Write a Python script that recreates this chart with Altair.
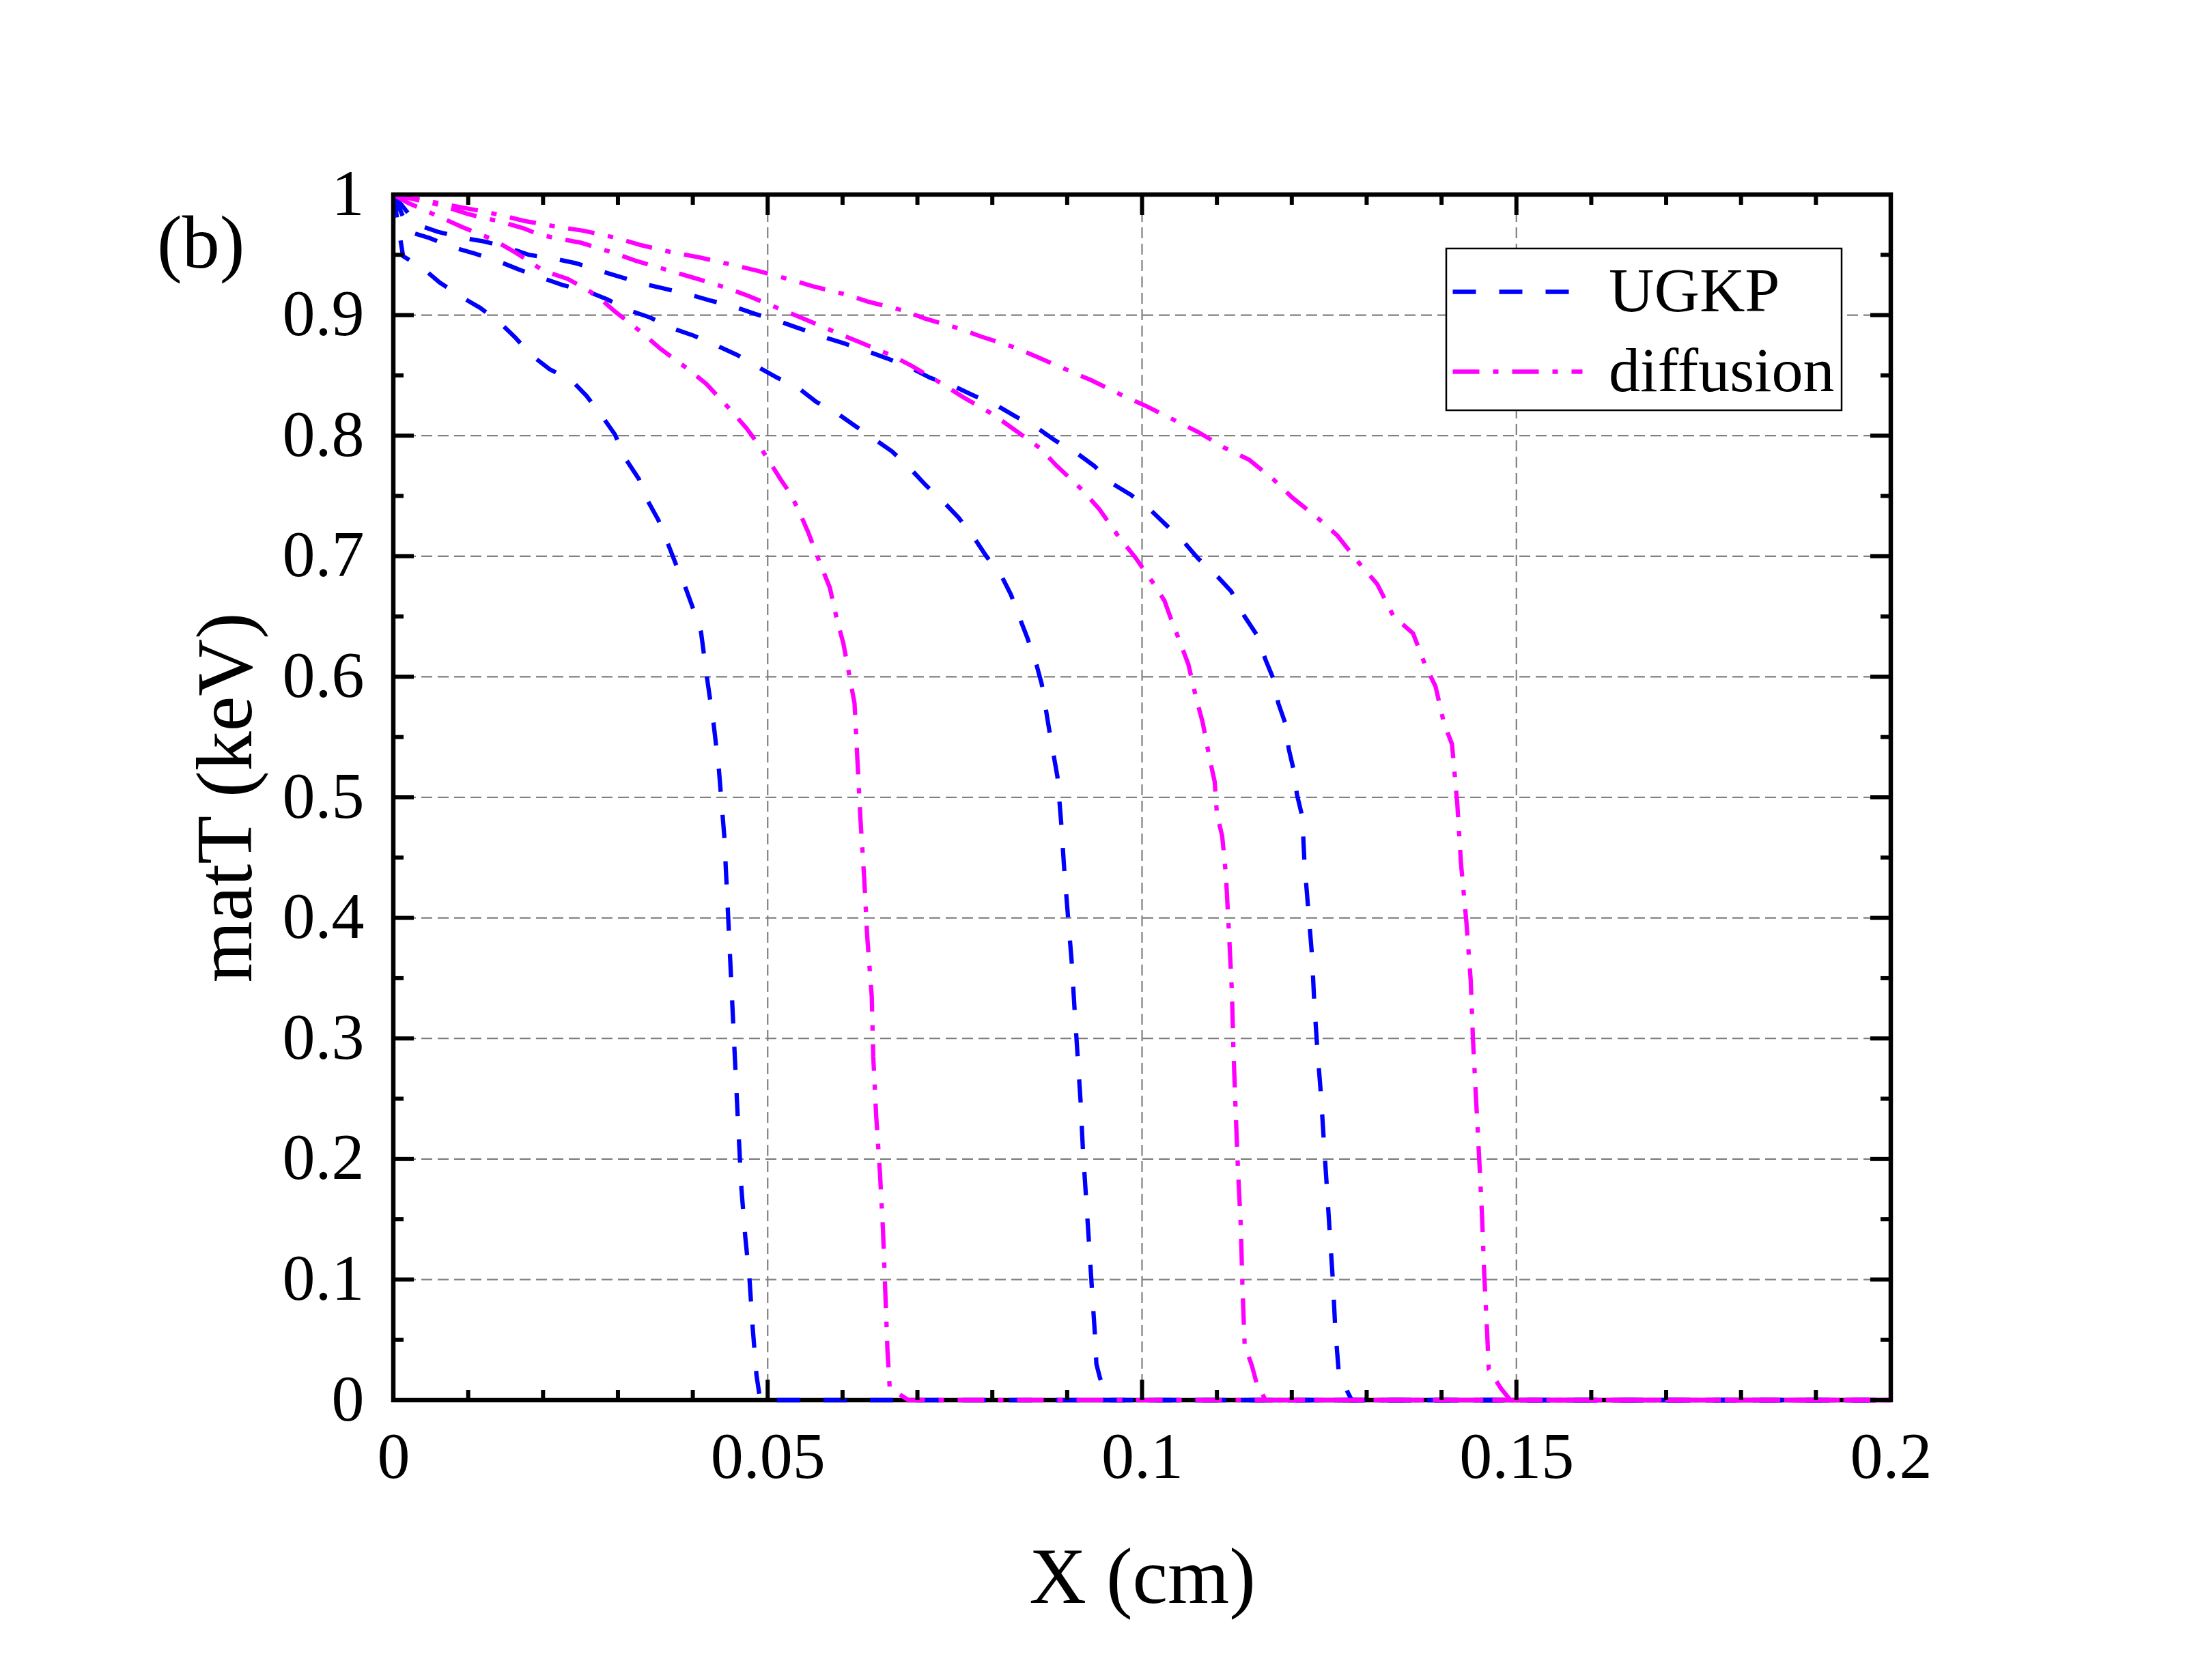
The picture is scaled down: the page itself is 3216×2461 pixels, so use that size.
import altair as alt
import pandas as pd

FONT = "Liberation Serif"

x_title = "X (cm)"
y_title = "matT (keV)"
panel_label = "(b)"
methods = ["UGKP", "diffusion"]
colors = ["#0000FF", "#FF00FF"]
dashes = [[34, 34], [39, 20, 8, 20]]

# UGKP curves
ugkp1_x = [0, 0.0013, 0.0041, 0.0062, 0.0094, 0.0116, 0.0142, 0.0162, 0.0184, 0.0209, 0.0238, 0.0258,
           0.0279, 0.0296, 0.031, 0.0328, 0.0338, 0.0354, 0.0367, 0.0377, 0.0389, 0.0399, 0.0411, 0.0419,
           0.0428, 0.0435, 0.0442, 0.0448, 0.0454, 0.046, 0.0465, 0.047, 0.0476, 0.048, 0.0485, 0.049, 0.2]
ugkp1_y = [1.0, 0.949, 0.938, 0.927, 0.914, 0.906, 0.894, 0.882, 0.867, 0.855, 0.846, 0.833,
           0.816, 0.801, 0.781, 0.764, 0.748, 0.730, 0.710, 0.694, 0.676, 0.659, 0.637, 0.599,
           0.560, 0.522, 0.468, 0.391, 0.312, 0.235, 0.175, 0.136, 0.098, 0.06, 0.021, 0.0, 0.0]

ugkp2_x = [0, 0.0022, 0.0048, 0.0081, 0.0109, 0.0139, 0.0167, 0.0198, 0.0226, 0.0258, 0.0286, 0.0315,
           0.0343, 0.0373, 0.0401, 0.0431, 0.0459, 0.0487, 0.0513, 0.0542, 0.0565, 0.0594, 0.0617, 0.0645,
           0.0666, 0.069, 0.0711, 0.0735, 0.0755, 0.0776, 0.0792, 0.0812, 0.0825, 0.0837, 0.0847, 0.0859,
           0.0866, 0.0876, 0.0887, 0.0892, 0.0896, 0.0901, 0.0906, 0.091, 0.0914, 0.0918, 0.0921, 0.0925,
           0.0929, 0.0933, 0.0937, 0.0939, 0.0944, 0.0955, 0.2]
ugkp2_y = [1.0, 0.969, 0.964, 0.956, 0.951, 0.945, 0.938, 0.931, 0.925, 0.920, 0.913, 0.904,
           0.898, 0.889, 0.883, 0.875, 0.867, 0.857, 0.848, 0.839, 0.828, 0.818, 0.808, 0.796,
           0.787, 0.773, 0.759, 0.745, 0.732, 0.715, 0.700, 0.684, 0.668, 0.648, 0.632, 0.610,
           0.594, 0.556, 0.517, 0.479, 0.441, 0.402, 0.364, 0.323, 0.285, 0.247, 0.208, 0.170,
           0.132, 0.093, 0.055, 0.030, 0.018, 0.0, 0.0]

ugkp3_x = [0, 0.0032, 0.006, 0.0094, 0.0122, 0.0153, 0.0181, 0.0214, 0.0244, 0.0275, 0.0301, 0.0334,
           0.0362, 0.0396, 0.0424, 0.0455, 0.0483, 0.0515, 0.0542, 0.0574, 0.06, 0.0633, 0.066, 0.0692,
           0.0717, 0.0749, 0.0776, 0.0806, 0.0831, 0.0861, 0.0884, 0.0914, 0.0936, 0.0961, 0.0985, 0.1012,
           0.1032, 0.1057, 0.1075, 0.1101, 0.1119, 0.1137, 0.1153, 0.1165, 0.1175, 0.1182, 0.1191, 0.1196,
           0.1202, 0.1207, 0.1214, 0.1217, 0.1222, 0.1227, 0.123, 0.1234, 0.1239, 0.1243, 0.1247, 0.1251,
           0.1255, 0.1258, 0.1263, 0.128, 0.2]
ugkp3_y = [1.0, 0.975, 0.969, 0.964, 0.961, 0.956, 0.950, 0.947, 0.943, 0.937, 0.932, 0.926,
           0.922, 0.917, 0.912, 0.907, 0.901, 0.895, 0.889, 0.882, 0.877, 0.870, 0.864, 0.856,
           0.848, 0.841, 0.833, 0.825, 0.816, 0.806, 0.796, 0.785, 0.775, 0.760, 0.751, 0.738,
           0.726, 0.711, 0.698, 0.683, 0.671, 0.650, 0.635, 0.614, 0.599, 0.578, 0.562, 0.540,
           0.524, 0.502, 0.484, 0.445, 0.407, 0.369, 0.330, 0.292, 0.253, 0.213, 0.175, 0.136,
           0.098, 0.060, 0.021, 0.0, 0.0]

# diffusion curves
diff1_x = [0, 0.002, 0.006, 0.0092, 0.0132, 0.0163, 0.02, 0.0233, 0.027, 0.0296, 0.0331, 0.0357,
           0.0394, 0.0418, 0.0448, 0.0472, 0.0486, 0.0499, 0.0517, 0.0529, 0.054, 0.0554, 0.057, 0.0583,
           0.0593, 0.0601, 0.061, 0.0616, 0.062, 0.0624, 0.0629, 0.0633, 0.0639, 0.0641, 0.0645, 0.065,
           0.0654, 0.0657, 0.066, 0.0663, 0.0688, 0.2]
diff1_y = [1.0, 0.993, 0.982, 0.973, 0.963, 0.952, 0.937, 0.930, 0.917, 0.903, 0.886, 0.872,
           0.855, 0.843, 0.823, 0.806, 0.794, 0.782, 0.764, 0.753, 0.740, 0.720, 0.694, 0.674,
           0.646, 0.628, 0.598, 0.578, 0.529, 0.481, 0.432, 0.384, 0.335, 0.285, 0.235, 0.188,
           0.141, 0.091, 0.041, 0.010, 0.0, 0.0]

diff2_x = [0, 0.0064, 0.0099, 0.0118, 0.0141, 0.0174, 0.0194, 0.0216, 0.0251, 0.0271, 0.0293, 0.0324,
           0.0368, 0.0401, 0.0443, 0.0474, 0.0497, 0.0517, 0.0548, 0.059, 0.0621, 0.0664, 0.0692, 0.0733,
           0.0761, 0.08, 0.0825, 0.0863, 0.0886, 0.092, 0.0943, 0.0969, 0.0991, 0.1018, 0.103, 0.1041,
           0.105, 0.1062, 0.1072, 0.1081, 0.109, 0.1097, 0.11, 0.1107, 0.1112, 0.1116, 0.112, 0.1122,
           0.1125, 0.1128, 0.1132, 0.1134, 0.1137, 0.1147, 0.1153, 0.1165, 0.2]
diff2_y = [1.0, 0.991, 0.984, 0.981, 0.978, 0.972, 0.967, 0.964, 0.960, 0.956, 0.952, 0.945,
           0.937, 0.931, 0.923, 0.916, 0.910, 0.905, 0.897, 0.886, 0.878, 0.867, 0.858, 0.843,
           0.832, 0.818, 0.807, 0.790, 0.775, 0.755, 0.739, 0.716, 0.699, 0.675, 0.663, 0.644,
           0.630, 0.610, 0.583, 0.562, 0.533, 0.513, 0.486, 0.468, 0.436, 0.389, 0.339, 0.292,
           0.240, 0.193, 0.143, 0.096, 0.046, 0.028, 0.014, 0.0, 0.0]

diff3_x = [0, 0.012, 0.0143, 0.0176, 0.0221, 0.0254, 0.0298, 0.0331, 0.0373, 0.0408, 0.0451, 0.0485,
           0.0527, 0.056, 0.0605, 0.0635, 0.068, 0.0711, 0.0755, 0.0786, 0.0831, 0.0861, 0.0902, 0.0932,
           0.0975, 0.1004, 0.1046, 0.1075, 0.111, 0.1143, 0.1175, 0.12, 0.1236, 0.1261, 0.1289, 0.1314,
           0.1336, 0.1362, 0.1378, 0.1392, 0.1403, 0.1414, 0.1421, 0.1426, 0.1433, 0.1439, 0.1442, 0.1446,
           0.145, 0.1454, 0.1457, 0.1461, 0.1463, 0.1479, 0.1492, 0.2]
diff3_y = [1.0, 0.986, 0.983, 0.978, 0.973, 0.970, 0.964, 0.958, 0.952, 0.948, 0.942, 0.937,
           0.930, 0.924, 0.917, 0.911, 0.904, 0.897, 0.889, 0.882, 0.873, 0.865, 0.854, 0.846,
           0.833, 0.825, 0.812, 0.803, 0.790, 0.780, 0.764, 0.749, 0.731, 0.717, 0.695, 0.677,
           0.650, 0.636, 0.610, 0.592, 0.562, 0.544, 0.495, 0.445, 0.398, 0.348, 0.299, 0.251,
           0.204, 0.154, 0.105, 0.055, 0.026, 0.010, 0.0, 0.0]

x_major = [0, 0.05, 0.1, 0.15, 0.2]
x_minor = [0.01, 0.02, 0.03, 0.04, 0.06, 0.07, 0.08, 0.09, 0.11, 0.12, 0.13, 0.14,
           0.16, 0.17, 0.18, 0.19]
y_major = [0, 0.1, 0.2, 0.3, 0.4, 0.5, 0.6, 0.7, 0.8, 0.9, 1.0]
y_minor = [0.05, 0.15, 0.25, 0.35, 0.45, 0.55, 0.65, 0.75, 0.85, 0.95]
x_grid = [0.05, 0.1, 0.15]
y_grid = [0.1, 0.2, 0.3, 0.4, 0.5, 0.6, 0.7, 0.8, 0.9]

curves = [
    ("UGKP", "u1", ugkp1_x, ugkp1_y),
    ("UGKP", "u2", ugkp2_x, ugkp2_y),
    ("UGKP", "u3", ugkp3_x, ugkp3_y),
    ("diffusion", "d1", diff1_x, diff1_y),
    ("diffusion", "d2", diff2_x, diff2_y),
    ("diffusion", "d3", diff3_x, diff3_y),
]
rows = []
for method, cid, xs_, ys_ in curves:
    for i, (a, b) in enumerate(zip(xs_, ys_)):
        rows.append({"x": a, "y": b, "method": method, "curve": cid, "i": i})
df = pd.DataFrame(rows)

W, H = 2193, 1766
xs = alt.Scale(domain=[0, 0.2], nice=False, zero=False)
ys = alt.Scale(domain=[0, 1], nice=False, zero=False)

X_AXIS = alt.Axis(title=x_title, values=x_major, format="~g", labelPadding=37, titlePadding=72)
Y_AXIS = alt.Axis(title=y_title, values=y_major, format="~g", labelPadding=43, titlePadding=22)

grid_style = dict(color="#808080", strokeWidth=2.2, strokeDash=[16, 8])
grid_x = alt.Chart(pd.DataFrame({"v": x_grid})).mark_rule(**grid_style).encode(
    x=alt.X("v:Q", scale=xs, axis=X_AXIS))
grid_y = alt.Chart(pd.DataFrame({"v": y_grid})).mark_rule(**grid_style).encode(
    y=alt.Y("v:Q", scale=ys, axis=Y_AXIS))

lines = alt.Chart(df).mark_line(strokeWidth=6.3).encode(
    x=alt.X("x:Q", scale=xs, axis=X_AXIS),
    y=alt.Y("y:Q", scale=ys, axis=Y_AXIS),
    color=alt.Color("method:N", scale=alt.Scale(domain=methods, range=colors), legend=alt.Legend(title=None)),
    strokeDash=alt.StrokeDash("method:N", scale=alt.Scale(domain=methods, range=dashes), legend=alt.Legend(title=None)),
    detail="curve:N",
    order="i:Q",
)


def tick_layer(vals, side, length):
    d = pd.DataFrame({"v": vals})
    base = alt.Chart(d).mark_rule(color="black", strokeWidth=6)
    if side == "left":
        return base.encode(y=alt.Y("v:Q", scale=ys, axis=Y_AXIS), x=alt.value(0), x2=alt.value(length))
    if side == "right":
        return base.encode(y=alt.Y("v:Q", scale=ys, axis=Y_AXIS), x=alt.value(W), x2=alt.value(W - length))
    if side == "bottom":
        return base.encode(x=alt.X("v:Q", scale=xs, axis=X_AXIS), y=alt.value(H), y2=alt.value(H - length))
    return base.encode(x=alt.X("v:Q", scale=xs, axis=X_AXIS), y=alt.value(0), y2=alt.value(length))


ticks = []
for side in ["left", "right"]:
    ticks.append(tick_layer(y_major, side, 30))
    ticks.append(tick_layer(y_minor, side, 15))
for side in ["bottom", "top"]:
    ticks.append(tick_layer(x_major, side, 30))
    ticks.append(tick_layer(x_minor, side, 15))

label = alt.Chart(pd.DataFrame({"t": [panel_label]})).mark_text(
    font=FONT, fontSize=110, align="left", baseline="alphabetic", color="black"
).encode(text="t:N", x=alt.value(-346), y=alt.value(107))

chart = alt.layer(grid_x, grid_y, lines, *ticks, label).properties(
    width=W, height=H,
    autosize=alt.AutoSizeParams(type="none"),
    padding={"left": 568, "top": 277, "right": 300, "bottom": 400},
).configure_view(
    stroke="black", strokeWidth=6.5
).configure_axis(
    labelFont=FONT, titleFont=FONT, labelFontSize=96, titleFontSize=116,
    titleFontWeight="normal", labelColor="black", titleColor="black",
    domain=False, ticks=False, grid=False,
    labelFlush=False, labelOverlap=False,
).configure_legend(
    orient="none", legendX=1542, legendY=79, strokeColor="black", strokeWidth=2.5,
    fillColor="white", padding=10, labelFont=FONT, labelFontSize=92, labelColor="black",
    symbolType="M-1.08,0H2.72", symbolSize=10000, symbolStrokeWidth=6.3, labelOffset=121,
    rowPadding=17, labelLimit=0,
)

chart.save("out.html", embed_options={"renderer": "svg", "actions": False})
